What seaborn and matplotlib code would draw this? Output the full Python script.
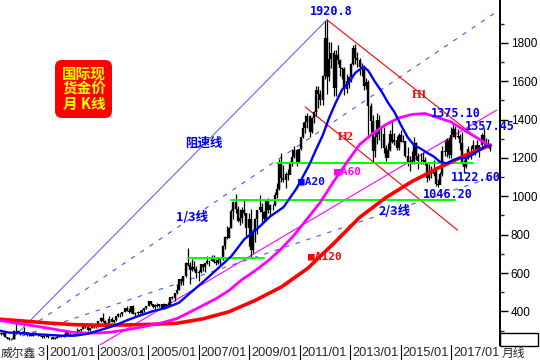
import numpy as np
import pandas as pd
import matplotlib
matplotlib.use("Agg")
import matplotlib.pyplot as plt
import seaborn as sns
from matplotlib.patches import FancyBboxPatch, Rectangle
from matplotlib.transforms import Affine2D

# monthly spot gold candles, 1999/01 .. 2017/12
first_open = 288.0
closes = [
    285.4, 287.3, 279.5, 286.6, 268.6, 261.0, 255.6, 254.8, 299.0, 299.1, 291.4, 290.3,
    283.3, 293.7, 276.8, 275.1, 272.3, 288.2, 276.8, 277.0, 273.7, 264.5, 269.1, 272.7,
    264.5, 266.7, 257.7, 263.2, 266.5, 270.6, 265.9, 273.0, 293.1, 279.0, 275.5, 276.5,
    282.3, 296.9, 301.4, 308.2, 326.6, 318.5, 304.7, 312.8, 323.7, 316.9, 317.7, 347.2,
    367.5, 347.5, 334.9, 336.8, 361.4, 346.0, 354.8, 375.6, 384.3, 386.3, 398.4, 416.3,
    402.2, 396.9, 427.0, 388.5, 392.8, 395.8, 391.4, 408.0, 415.7, 429.4, 452.6, 438.0,
    422.2, 435.3, 428.7, 435.8, 417.3, 435.8, 429.5, 433.3, 473.3, 470.8, 495.7, 513.0,
    568.8, 556.0, 582.0, 654.5, 643.0, 613.5, 632.5, 623.5, 599.3, 603.8, 646.7, 632.0,
    650.5, 664.2, 661.8, 680.5, 657.9, 650.5, 665.5, 672.0, 743.0, 789.5, 783.5, 836.5,
    923.3, 971.5, 933.5, 871.0, 885.8, 928.3, 914.0, 833.0, 880.8, 718.0, 814.5, 882.1,
    927.4, 942.5, 916.5, 883.3, 978.8, 927.3, 953.5, 955.8, 1007.8, 1040.0, 1181.0, 1096.0,
    1083.5, 1117.9, 1113.0, 1180.0, 1207.0, 1242.0, 1181.0, 1247.0, 1307.0, 1357.0, 1386.0, 1421.0,
    1333, 1411, 1439, 1556, 1536, 1500, 1628, 1827, 1620, 1716, 1746, 1566,
    1738, 1711, 1668, 1664, 1561, 1604, 1622, 1690, 1773, 1719, 1713, 1675,
    1664, 1578, 1595, 1472, 1393, 1234, 1312, 1396, 1326, 1323, 1251, 1202,
    1240, 1326, 1284, 1296, 1250, 1322, 1282, 1286, 1210, 1171, 1167, 1184,
    1279, 1212, 1183, 1183, 1190, 1172, 1095, 1134, 1115, 1141, 1065, 1061,
    1118, 1238, 1232, 1293, 1215, 1322, 1350, 1309, 1316, 1277, 1173, 1151,
    1211, 1249, 1249, 1268, 1269, 1242, 1269, 1322, 1280, 1271, 1275, 1248,
]
highs = [
    293, 291, 290, 293, 290, 266, 264, 258, 302, 338, 302, 291,
    292, 316, 294, 285, 279, 294, 292, 281, 278, 274, 270, 275,
    273, 268, 268, 264, 277, 274, 273, 280, 294, 293, 285, 280,
    284, 311, 304, 309, 328, 330, 322, 315, 327, 325, 323, 350,
    372, 389, 354, 340, 375, 371, 356, 376, 390, 391, 399, 418,
    427, 418, 428, 431, 395, 400, 408, 410, 419, 430, 455, 456,
    430, 437, 446, 437, 435, 443, 437, 448, 476, 480, 497, 541,
    571, 574, 584, 660, 730, 656, 675, 663, 636, 614, 649, 643,
    654, 691, 670, 693, 692, 672, 683, 678, 746, 795, 845, 840,
    933, 974, 1011, 950, 935, 944, 988, 915, 912, 936, 829, 888,
    928, 1007, 963, 923, 982, 991, 960, 962, 1024, 1070, 1195, 1227,
    1162, 1127, 1141, 1183, 1249, 1265, 1245, 1248, 1308, 1388, 1424, 1432,
    1424, 1414, 1447, 1576, 1577, 1553, 1632, 1913, 1920.8, 1804, 1803, 1763,
    1763, 1791, 1714, 1677, 1674, 1640, 1628, 1693, 1790, 1796, 1755, 1724,
    1695, 1683, 1617, 1605, 1487, 1425, 1348, 1434, 1424, 1361, 1361, 1267,
    1280, 1345, 1392, 1331, 1315, 1332, 1345, 1322, 1288, 1255, 1208, 1239,
    1307, 1284, 1224, 1224, 1232, 1205, 1175, 1170, 1157, 1191, 1142, 1088,
    1127, 1263, 1287, 1303, 1304, 1362, 1375.1, 1366, 1352, 1326, 1338, 1188,
    1220, 1264, 1264, 1295, 1270, 1296, 1270, 1331, 1357.45, 1306, 1299, 1278,
]
lows = [
    283, 282, 278, 277, 268, 256, 252, 253, 254, 291, 288, 278,
    280, 282, 274, 272, 270, 271, 276, 271, 270, 263, 263, 267,
    262, 255, 255, 256, 263, 265, 264, 264, 270, 276, 272, 272,
    276, 282, 290, 298, 306, 314, 300, 300, 312, 313, 313, 316,
    343, 344, 320, 321, 336, 342, 341, 352, 371, 369, 376, 397,
    400, 391, 392, 384, 372, 382, 389, 386, 398, 411, 427, 432,
    417, 413, 425, 421, 414, 413, 417, 428, 432, 463, 456, 489,
    512, 538, 539, 580, 638, 542, 612, 612, 573, 560, 600, 611,
    605, 648, 637, 661, 653, 641, 647, 642, 667, 724, 775, 781,
    834, 880, 913, 864, 849, 861, 900, 786, 740, 681, 705, 760,
    801, 916, 864, 867, 881, 912, 905, 931, 947, 989, 1033, 1075,
    1075, 1044, 1087, 1116, 1157, 1199, 1157, 1179, 1240, 1306, 1330, 1358,
    1309, 1329, 1381, 1419, 1462, 1478, 1478, 1611, 1532, 1600, 1668, 1522,
    1523, 1689, 1627, 1613, 1527, 1541, 1563, 1598, 1687, 1692, 1672, 1635,
    1626, 1555, 1562, 1321, 1338, 1180, 1207, 1272, 1292, 1251, 1226, 1182,
    1204, 1238, 1277, 1268, 1240, 1240, 1281, 1281, 1205, 1160, 1131, 1170,
    1167, 1191, 1142, 1170, 1169, 1162, 1077, 1084, 1098, 1107, 1052, 1046.2,
    1062, 1108, 1208, 1206, 1200, 1200, 1310, 1301, 1304, 1241, 1171, 1122.6,
    1147, 1194, 1195, 1240, 1214, 1236, 1204, 1265, 1272, 1261, 1264, 1236,
]

# moving averages
ma20_dates = ["1999/01", "1999/07", "2000/01", "2000/07", "2001/01", "2001/07", "2002/01", "2002/07",
              "2003/01", "2003/07", "2004/01", "2004/07", "2005/01", "2005/07", "2006/01", "2006/07",
              "2007/01", "2007/07", "2008/01", "2008/07", "2009/01", "2009/07", "2010/01", "2010/07",
              "2011/01", "2011/04", "2011/07", "2011/10", "2012/01", "2012/04", "2012/07", "2012/10",
              "2013/01", "2013/02", "2013/04", "2013/07", "2013/10", "2014/01", "2014/04", "2014/07",
              "2014/10", "2015/01", "2015/04", "2015/07", "2015/10", "2016/01", "2016/04", "2016/07",
              "2016/10", "2017/01", "2017/04", "2017/07", "2017/10", "2017/12"]
ma20_vals = [303, 289, 286, 281, 277, 273, 273, 283,
             303, 324, 353, 378, 401, 418, 445, 504,
             563, 625, 687, 776, 831, 896, 943, 1041,
             1167, 1245, 1317, 1410, 1488, 1557, 1593, 1644,
             1670, 1674, 1655, 1598, 1549, 1489, 1439, 1371,
             1309, 1267, 1249, 1227, 1208, 1179, 1172, 1189,
             1200, 1199, 1218, 1241, 1263, 1263]

ma60_dates = ["1999/01", "1999/06", "1999/12", "2000/06", "2000/12", "2001/06", "2001/12", "2002/06",
              "2002/12", "2003/06", "2003/12", "2004/06", "2004/12", "2005/06", "2005/12", "2006/06",
              "2006/12", "2007/06", "2007/12", "2008/06", "2008/12", "2009/06", "2009/12", "2010/06",
              "2010/12", "2011/06", "2011/12", "2012/06", "2012/12", "2013/06", "2013/12", "2014/06",
              "2014/12", "2015/06", "2015/12", "2016/06", "2016/12", "2017/06", "2017/12"]
ma60_vals = [355, 346, 335, 325, 314, 302, 291, 287,
             287, 292, 302, 314, 328, 343, 362, 396,
             431, 466, 509, 566, 612, 664, 726, 799,
             884, 970, 1076, 1175, 1270, 1327, 1374, 1409,
             1427, 1432, 1410, 1388, 1345, 1305, 1262]

ma120_dates = ["1998/12", "1999/12", "2000/12", "2001/12", "2002/12", "2003/12", "2004/12",
               "2005/12", "2006/12", "2007/12", "2008/12", "2009/12", "2010/12", "2011/12",
               "2012/12", "2013/12", "2014/12", "2015/12", "2016/12", "2017/12"]
ma120_vals = [361, 351, 340, 331, 328, 329, 332,
              338, 361, 398, 457, 527, 623, 753,
              890, 993, 1077, 1147, 1211, 1266]

# drawn lines (date, price)
speed_origin = ("1999/08", 252.8)
speed_peak = ("2011/09", 1920.8)
h1_line = [("2011/09", 1920.8), ("2017/12", 1250)]
h2_line = [("2010/11", 1466), ("2016/09", 824)]
pink_line = [("2002/09", 200), ("2018/03", 1450)]
green_lines = [("2006/05", "2009/04", 678), ("2008/01", "2016/08", 981), ("2009/10", "2017/04", 1175)]

axis_labels = ["2001/01", "2003/01", "2005/01", "2007/01", "2009/01", "2011/01", "2013/01", "2015/01", "2017/01"]


def mi(s):
    y, mo = s.split("/")
    return (int(y) - 1999) * 12 + int(mo) - 1


sns.set_style("white")
plt.rcParams["font.family"] = ["Liberation Sans", "Noto Sans CJK SC", "DejaVu Sans"]
CJK = ["Noto Sans CJK SC", "DejaVu Sans"]
MONO = ["DejaVu Sans Mono"]

fig = plt.figure(figsize=(5.4, 3.6), dpi=100)
fig.patch.set_facecolor("white")
# picture-pixel transform (x right, y down)
tp = Affine2D().scale(1, -1).translate(0, 360).scale(1 / 540, 1 / 360) + fig.transFigure

ax = fig.add_axes([0, 15 / 360, 500 / 540, 345 / 360])
ax.set_facecolor("white")
ax.set_xlim(1.75, 231.5)
ax.set_ylim(224.5, 2024)

m = np.arange(len(closes))
c = np.array(closes, dtype=float)
h = np.array(highs, dtype=float)
l = np.array(lows, dtype=float)
o = np.r_[first_open, c[:-1]]  # continuous market: open = previous close

# speed resistance lines
m0, v0 = mi(speed_origin[0]), speed_origin[1]
m1, v1 = mi(speed_peak[0]), speed_peak[1]
ax.plot([m0, m1], [v0, v1], color="#5050ff", lw=0.7, zorder=1)
for frac in (2 / 3, 1 / 3):
    slope = (v1 - v0) * frac / (m1 - m0)
    ax.plot([m0, 240], [v0, v0 + slope * (240 - m0)], color="#5050ff", lw=0.8,
            ls=(0, (4, 6)), zorder=1)

for ln, col in ((h1_line, "#ff0000"), (h2_line, "#ff0000"), (pink_line, "#ff00ff")):
    ax.plot([mi(p[0]) for p in ln], [p[1] for p in ln], color=col, lw=0.8, zorder=1)

# candles
ax.vlines(m, l, h, color="black", lw=0.9, zorder=2)
ax.vlines(m, np.minimum(o, c), np.maximum(o, c), color="black", lw=1.7, zorder=2)

for a, b, v in green_lines:
    ax.plot([mi(a), mi(b)], [v, v], color="#00ff00", lw=1.4, zorder=3)

# moving averages
for dates, vals, col, lw, z in ((ma120_dates, ma120_vals, "#ff0000", 2.6, 4),
                                (ma60_dates, ma60_vals, "#ff00ff", 2.0, 5),
                                (ma20_dates, ma20_vals, "#0000ff", 1.7, 6)):
    df = pd.DataFrame({"m": [mi(d) for d in dates], "v": vals})
    sns.lineplot(data=df, x="m", y="v", color=col, lw=lw, ax=ax, zorder=z)

# annotations
num_kw = dict(family=MONO, weight="bold", color="#0000ff", fontsize=8.5, ha="center", va="center", zorder=8)
ax.text(153.9, 1962, "1920.8", **num_kw)
ax.text(211.3, 1430, "1375.10", **num_kw)
ax.text(226.9, 1362, "1357.45", **num_kw)
ax.text(220.5, 1096, "1122.60", **num_kw)
ax.text(207.6, 1012, "1046.20", **num_kw)

ax.text(194.8, 1529, "H1", family=["Liberation Serif"], weight="bold", color="#ff0000",
        fontsize=9, ha="center", va="center")
ax.text(160.8, 1310, "H2", family=["Liberation Serif"], weight="bold", color="#ff0000",
        fontsize=9, ha="center", va="center")

cjk_kw = dict(family=CJK, weight="bold", color="#0000ff", fontsize=9, ha="center", va="center")
ax.text(95.5, 1278, "阻速线", **cjk_kw)
ax.text(90.0, 892, "1/3线", **cjk_kw)
ax.text(183.3, 923, "2/3线", **cjk_kw)

ma_kw = dict(family=MONO, weight="bold", fontsize=8, ha="center", va="center", zorder=8)
ax.text(144.7, 1080, "■A20", color="#0000ff", **ma_kw)
ax.text(161.2, 1132, "■A60", color="#ff00ff", **ma_kw)
ax.text(151.1, 684, "■A120", color="#ff0000", **ma_kw)

# y axis on the right
for s in ("left", "top", "bottom"):
    ax.spines[s].set_visible(False)
ax.spines["right"].set_linewidth(1.4)
ax.spines["right"].set_color("black")
ax.yaxis.tick_right()
ax.set_yticks(np.arange(400, 1801, 200))
ax.set_yticks(np.arange(300, 2000, 200), minor=True)
ax.tick_params(axis="y", which="major", length=5.8, width=1, pad=2, labelsize=8.5,
               colors="black", direction="out")
ax.tick_params(axis="y", which="minor", length=3, width=1, direction="out")
ax.set_xticks([])
ax.set_xlabel("")
ax.set_ylabel("")

# title box
fig.patches.append(FancyBboxPatch((55, 60), 57, 58, boxstyle="round,pad=0,rounding_size=7",
                                  transform=tp, facecolor="#ff0000", edgecolor="none", figure=fig))
fig.text(84, 89, "国际现\n货金价\n月 K线", transform=tp, family=CJK, weight="bold",
         color="#ffff00", fontsize=10.5, ha="center", va="center", linespacing=0.95,
         multialignment="center")

# date strip
ax_lab = fig.add_axes([0, 0, 500 / 540, 15 / 360])
ax_lab.set_xlim(0, 500)
ax_lab.set_ylim(15, 0)
ax_lab.axis("off")
for k, lab in enumerate(axis_labels):
    x = 47 + 50.5 * k
    ax_lab.plot([x, x], [0, 15], color="black", lw=0.8, clip_on=True)
    ax_lab.text(x + 2, 8, lab, fontsize=9.2, ha="left", va="center", clip_on=True)
ax_lab.text(1, 8, "威尔鑫", family=CJK, fontsize=8.5, ha="left", va="center")
ax_lab.text(38, 8, "3", fontsize=9.2, ha="left", va="center")

# small box under the price scale and the period tag
fig.patches.append(Rectangle((500, 333), 38, 13, transform=tp, facecolor="none",
                             edgecolor="black", lw=1.0, figure=fig))
fig.text(502, 353, "月线", transform=tp, family=CJK, fontsize=8.5, ha="left", va="center")

fig.savefig("out.png", dpi=100, facecolor="white")
